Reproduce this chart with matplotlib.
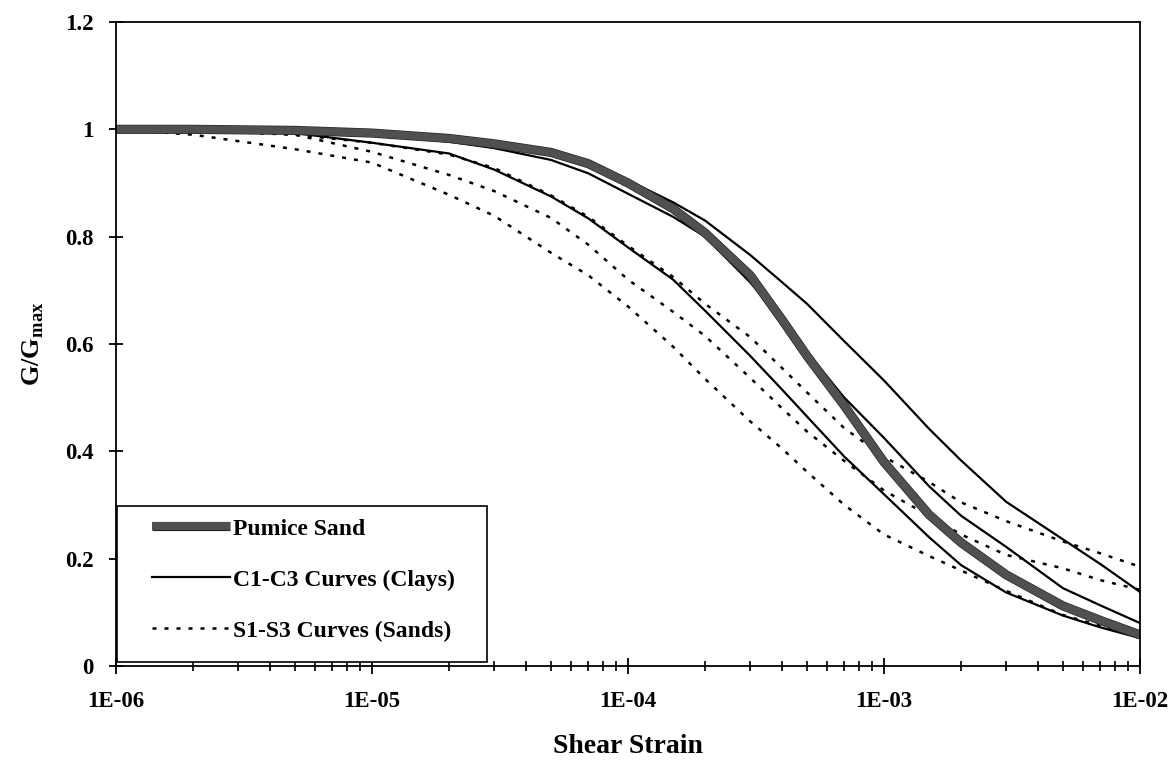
import numpy as np
import matplotlib
matplotlib.use("Agg")
import matplotlib.pyplot as plt
import matplotlib.patheffects as pe
from matplotlib.patches import Rectangle
from matplotlib.ticker import FuncFormatter, LogLocator

plt.rcParams['font.family'] = 'Liberation Serif'
plt.rcParams['font.weight'] = 'bold'
plt.rcParams['axes.labelweight'] = 'bold'
plt.rcParams['mathtext.fontset'] = 'custom'
plt.rcParams['mathtext.rm'] = 'Liberation Serif'

# shear strain values
strain = [1e-6, 2e-6, 5e-6, 1e-5, 2e-5, 3e-5, 5e-5, 7e-5, 1e-4, 1.5e-4, 2e-4,
          3e-4, 4e-4, 5e-4, 7e-4, 1e-3, 1.5e-3, 2e-3, 3e-3, 5e-3, 7e-3, 1e-2]

pumice = [1.0, 1.0, 0.998, 0.993, 0.983, 0.973, 0.957, 0.936, 0.90, 0.852, 0.807,
          0.728, 0.645, 0.578, 0.485, 0.38, 0.282, 0.23, 0.17, 0.112, 0.085, 0.058]

c1 = [1.0, 1.0, 0.998, 0.994, 0.985, 0.975, 0.958, 0.937, 0.905, 0.864, 0.83,
      0.766, 0.715, 0.675, 0.605, 0.532, 0.442, 0.383, 0.306, 0.236, 0.19, 0.138]
c2 = [1.0, 1.0, 0.997, 0.99, 0.977, 0.965, 0.943, 0.918, 0.88, 0.837, 0.80,
      0.715, 0.645, 0.585, 0.50, 0.425, 0.335, 0.28, 0.222, 0.145, 0.113, 0.08]
c3 = [1.0, 0.999, 0.993, 0.975, 0.955, 0.925, 0.875, 0.834, 0.78, 0.72, 0.662,
      0.578, 0.515, 0.465, 0.39, 0.32, 0.24, 0.188, 0.137, 0.094, 0.072, 0.052]

s1 = [1.0, 0.998, 0.99, 0.975, 0.953, 0.928, 0.877, 0.837, 0.783, 0.725, 0.675,
      0.613, 0.555, 0.51, 0.443, 0.39, 0.343, 0.305, 0.27, 0.232, 0.21, 0.185]
s2 = [1.0, 0.998, 0.99, 0.958, 0.915, 0.885, 0.835, 0.785, 0.72, 0.66, 0.615,
      0.537, 0.48, 0.437, 0.382, 0.327, 0.28, 0.245, 0.207, 0.182, 0.16, 0.142]
s3 = [1.0, 0.99, 0.963, 0.938, 0.878, 0.839, 0.77, 0.728, 0.67, 0.595, 0.535,
      0.456, 0.405, 0.362, 0.30, 0.245, 0.205, 0.178, 0.14, 0.095, 0.075, 0.055]

labels = ['Pumice Sand', 'C1-C3 Curves (Clays)', 'S1-S3 Curves (Sands)']

fig = plt.figure(figsize=(11.74, 7.61), dpi=100)
ax = fig.add_axes([116/1174, 1 - 666/761, 1024/1174, 644/761])

dots = (0, (1.6, 3.2))
for s in (s1, s2, s3):
    hs, = ax.plot(strain, s, color='black', lw=1.8, linestyle=dots)
for c in (c1, c2, c3):
    hc, = ax.plot(strain, c, color='black', lw=1.6)
hp, = ax.plot(strain, pumice, color='#505050', lw=5.6, solid_capstyle='butt',
              path_effects=[pe.Stroke(linewidth=6.6, foreground='#262626'), pe.Normal()])

ax.set_xscale('log')
ax.set_xlim(1e-6, 1e-2)
ax.set_ylim(0, 1.2)
ax.set_yticks(np.arange(0, 1.21, 0.2))
ax.yaxis.set_major_formatter(FuncFormatter(lambda v, p: f'{v:g}'))
ax.xaxis.set_major_locator(LogLocator(base=10, numticks=10))
ax.xaxis.set_minor_locator(LogLocator(base=10, subs=np.arange(2, 10), numticks=50))
ax.xaxis.set_major_formatter(FuncFormatter(lambda v, p: f'{v:.0E}'))

for side in ax.spines.values():
    side.set_linewidth(1.3)
ax.tick_params(axis='x', which='major', direction='inout', length=12, width=1.3,
               pad=12, labelsize=16.5)
ax.tick_params(axis='x', which='minor', direction='inout', length=7, width=1.2)
ax.tick_params(axis='y', which='major', direction='inout', length=10, width=1.3,
               pad=11, labelsize=16.5)

ax.set_xlabel('Shear Strain', fontsize=20, labelpad=16)
ax.set_ylabel(r'G/G$_{\mathregular{max}}$', fontsize=19, labelpad=14)

ax.add_patch(Rectangle((1/1024, 4/644), 370/1024, 156/644, transform=ax.transAxes,
                       facecolor='white', edgecolor='black', lw=1.2, zorder=4))
leg = ax.legend([hp, hc, hs], labels, loc='upper left',
                bbox_to_anchor=(36/1024, 148/644), frameon=False, borderpad=0,
                borderaxespad=0, handlelength=3.3, handletextpad=0.15,
                labelspacing=1.25, fontsize=17)
leg.set_zorder(5)

fig.savefig('out.png', dpi=100)
